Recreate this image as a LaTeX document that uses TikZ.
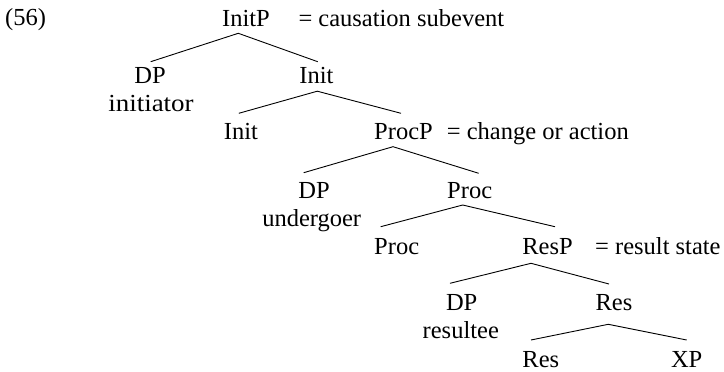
\documentclass[tikz,border=0pt]{standalone}
\usepackage{fontspec}
\setmainfont{Liberation Serif}
\begin{document}
\begin{tikzpicture}[x=1pt,y=-1pt,
  lbl/.style={anchor=base,inner sep=0pt,font=\fontsize{24.5}{28}\selectfont},
  gloss/.style={anchor=base west,inner sep=0pt,font=\fontsize{24.5}{28}\selectfont},
  branch/.style={line width=0.9pt,black}]
\useasboundingbox (0,0) rectangle (724,372);

% example number
\node[gloss] (num) at (5,26) {(56)};

% labels of the tree
\node[lbl] (initP) at (246,27) {InitP};
\node[gloss] (g1) at (298.3,27) {= causation subevent};
\node[lbl] (dpA) at (150,83) {DP};
\node[lbl] (roleA) at (151,111.7) {\scalebox{1.1}[1]{initiator}};
\node[lbl] (initA) at (316.5,83) {Init};
\node[lbl] (initB) at (241,139.5) {Init};
\node[lbl] (procP) at (403.5,139.5) {ProcP};
\node[gloss] (g2) at (446.7,139.5) {= change or action};
\node[lbl] (dpB) at (314,198.3) {DP};
\node[lbl] (roleB) at (311.7,226.8) {undergoer};
\node[lbl] (procA) at (469.7,198.3) {Proc};
\node[lbl] (procB) at (396.7,254) {Proc};
\node[lbl] (resP) at (547.5,254.5) {ResP};
\node[gloss] (g3) at (595,254.5) {= result state};
\node[lbl] (dpC) at (461.7,310) {DP};
\node[lbl] (roleC) at (460.8,338.5) {resultee};
\node[lbl] (resA) at (614,310) {Res};
\node[lbl] (resB) at (540.8,367) {Res};
\node[lbl] (xp) at (686.7,367) {XP};

% branch points
\coordinate (initP-b) at (238.3,33.3);
\coordinate (dpA-t) at (150.7,61.7);
\coordinate (initA-t) at (317.7,61.7);
\coordinate (initA-b) at (317.3,91.2);
\coordinate (initB-t) at (238.8,113.3);
\coordinate (procP-t) at (401,113.3);
\coordinate (procP-b) at (393,146.7);
\coordinate (dpB-t) at (303.7,172.7);
\coordinate (procA-t) at (478.7,173.3);
\coordinate (procA-b) at (462.7,205);
\coordinate (procB-t) at (380.7,226.7);
\coordinate (resP-t) at (555,226.7);
\coordinate (resP-b) at (531,263.3);
\coordinate (dpC-t) at (450,283.3);
\coordinate (resA-t) at (609,284);
\coordinate (resA-b) at (608.3,324.3);
\coordinate (resB-t) at (531,340);
\coordinate (xp-t) at (686.7,340);

% branches
\draw[branch] (dpA-t) -- (initP-b) -- (initA-t);
\draw[branch] (initB-t) -- (initA-b) -- (procP-t);
\draw[branch] (dpB-t) -- (procP-b) -- (procA-t);
\draw[branch] (procB-t) -- (procA-b) -- (resP-t);
\draw[branch] (dpC-t) -- (resP-b) -- (resA-t);
\draw[branch] (resB-t) -- (resA-b) -- (xp-t);
\end{tikzpicture}
\end{document}
